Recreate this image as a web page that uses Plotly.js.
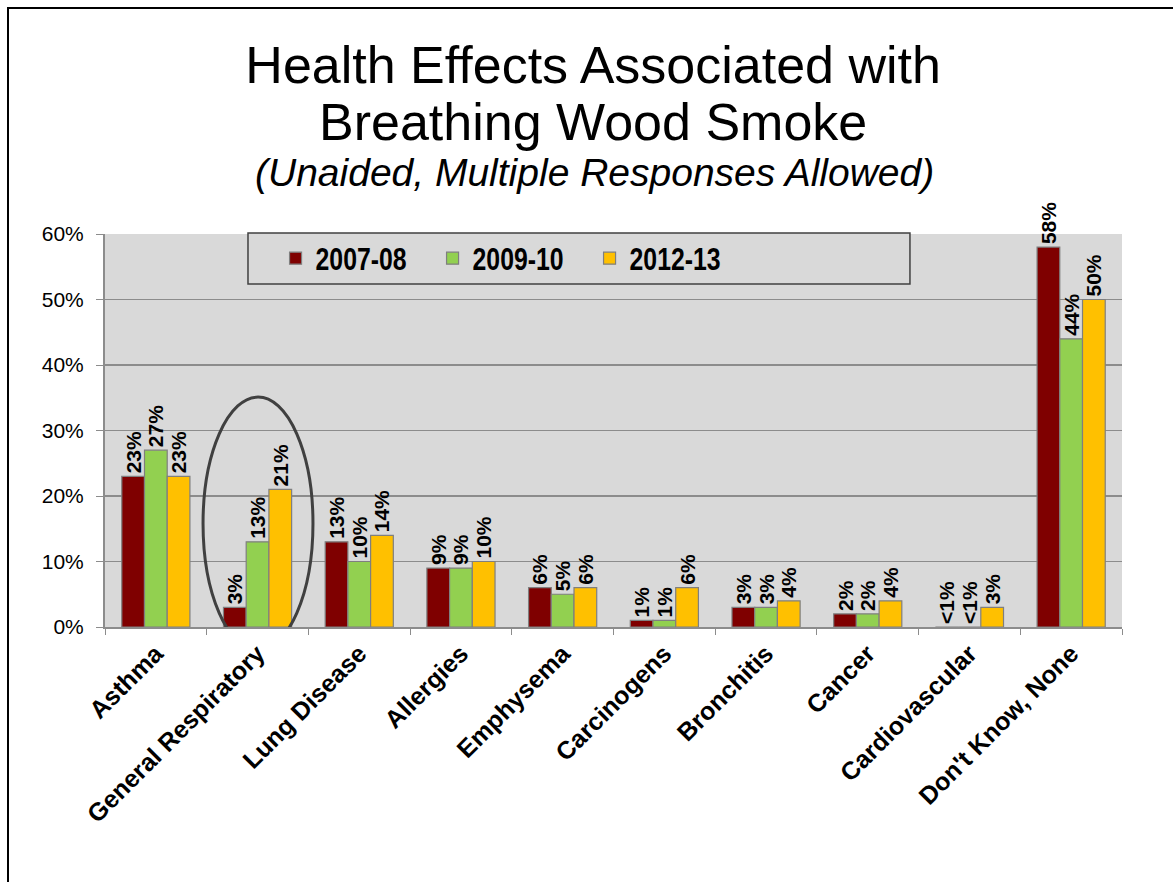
<!DOCTYPE html>
<html>
<head>
<meta charset="utf-8">
<script src="https://cdn.plot.ly/plotly-3.0.1.min.js"></script>
<style>
  html, body { margin: 0; padding: 0; background: #ffffff; }
  #wrap { position: relative; width: 1173px; height: 882px; overflow: hidden; }
  #chart { position: absolute; left: 0; top: 0; width: 1173px; height: 882px; }
  #frame { position: absolute; left: 7px; top: 7px; width: 1200px; height: 900px;
           border-left: 2px solid #000; border-top: 2px solid #000; pointer-events: none; }
</style>
</head>
<body>
<div id="wrap">
  <div id="chart"></div>
  <div id="frame"></div>
</div>
<script>
// ---- data ----
const categories = ["Asthma", "General Respiratory", "Lung Disease", "Allergies", "Emphysema",
                    "Carcinogens", "Bronchitis", "Cancer", "Cardiovascular", "Don't Know, None"];
const seriesNames = ["2007-08", "2009-10", "2012-13"];
const values2007 = [0.23, 0.03, 0.13, 0.09, 0.06, 0.01, 0.03, 0.02, 0.00, 0.58];
const values2009 = [0.27, 0.13, 0.10, 0.09, 0.05, 0.01, 0.03, 0.02, 0.00, 0.44];
const values2012 = [0.23, 0.21, 0.14, 0.10, 0.06, 0.06, 0.04, 0.04, 0.03, 0.50];
const labels2007 = ["23%", "3%", "13%", "9%", "6%", "1%", "3%", "2%", "<1%", "58%"];
const labels2009 = ["27%", "13%", "10%", "9%", "5%", "1%", "3%", "2%", "<1%", "44%"];
const labels2012 = ["23%", "21%", "14%", "10%", "6%", "6%", "4%", "4%", "3%", "50%"];
const yTickVals = [0, 0.1, 0.2, 0.3, 0.4, 0.5, 0.6];
const yTickText = ["0%", "10%", "20%", "30%", "40%", "50%", "60%"];

const colors = ["#7f0000", "#92d050", "#ffc000"];
const FONT = "Arial, 'Liberation Sans', sans-serif";

function mk(name, vals, labels, color) {
  return {
    type: "bar", name: name, x: categories, y: vals,
    text: labels, texttemplate: "%{text}", textposition: "outside", textangle: -90,
    constraintext: "none", cliponaxis: false,
    outsidetextfont: { family: FONT, size: 21, color: "#000", weight: "bold" },
    marker: { color: color, line: { color: "#7f7f7f", width: 1.2 } },
    hoverinfo: "x+y"
  };
}

const data = [
  mk(seriesNames[0], values2007, labels2007, colors[0]),
  mk(seriesNames[1], values2009, labels2009, colors[1]),
  mk(seriesNames[2], values2012, labels2012, colors[2])
];

const layout = {
  width: 1173, height: 882,
  paper_bgcolor: "#ffffff", plot_bgcolor: "#d9d9d9",
  margin: { l: 105, r: 51, t: 234, b: 255 },
  font: { family: FONT, color: "#000" },
  barmode: "group", bargap: 0.33, bargroupgap: 0,
  title: {
    text: "Health Effects Associated with",
    font: { family: FONT, size: 52, color: "#000" },
    x: 0.48, xanchor: "center", xref: "paper",
    y: 0.926, yanchor: "middle", yref: "container"
  },
  annotations: [
    { text: "Breathing Wood Smoke", xref: "paper", yref: "paper", x: 0.48, y: 1.0,
      xanchor: "center", yanchor: "middle", yshift: 112, showarrow: false,
      font: { family: FONT, size: 52, color: "#000" } },
    { text: "<i>(Unaided, Multiple Responses Allowed)</i>", xref: "paper", yref: "paper", x: 0.481, y: 1.0,
      xanchor: "center", yanchor: "middle", yshift: 62, showarrow: false,
      font: { family: FONT, size: 39, color: "#000" } }
  ],
  xaxis: {
    type: "category", tickangle: -45, tickson: "boundaries", ticks: "outside", ticklen: 6,
    tickcolor: "#8c8c8c", showline: true, linecolor: "#8c8c8c", linewidth: 2,
    tickfont: { family: FONT, size: 25, color: "#000", weight: "bold" },
    showgrid: false, automargin: false
  },
  yaxis: {
    range: [0, 0.6], tickvals: yTickVals, ticktext: yTickText,
    ticks: "outside", ticklen: 7, tickcolor: "#8c8c8c",
    showline: true, linecolor: "#8c8c8c", linewidth: 2,
    showgrid: true, gridcolor: "#8c8c8c", gridwidth: 1.5,
    tickfont: { family: FONT, size: 21, color: "#000" },
    ticklabelstandoff: 8, zeroline: false, automargin: false
  },
  legend: {
    orientation: "h", x: 0.1677, xanchor: "left", y: 0.9377, yanchor: "middle",
    bgcolor: "rgba(0,0,0,0)", borderwidth: 0,
    font: { family: FONT, size: 31, color: "#000", weight: "bold" },
    entrywidth: 112, itemwidth: 30, traceorder: "normal"
  },
  shapes: [
    // legend frame
    { type: "rect", xref: "paper", yref: "paper", x0: 0.1406, x1: 0.7915, y0: 1.0025, y1: 0.873,
      line: { color: "#404040", width: 1.5 }, fillcolor: "#d9d9d9", layer: "above" },
    // highlight ellipse
    { type: "circle", xref: "x", yref: "y", x0: 0.464, x1: 1.545, y0: -0.035, y1: 0.351,
      line: { color: "#404040", width: 3 }, fillcolor: "rgba(0,0,0,0)", layer: "above" }
  ],
  showlegend: true
};

Plotly.newPlot("chart", data, layout, { displayModeBar: false, staticPlot: true }).then(function (gd) {
  // condense the legend labels to mimic the narrow face used in the original
  gd.querySelectorAll(".legendtext").forEach(function (t) {
    t.setAttribute("textLength", "91");
    t.setAttribute("lengthAdjust", "spacingAndGlyphs");
  });
});
</script>
</body>
</html>
